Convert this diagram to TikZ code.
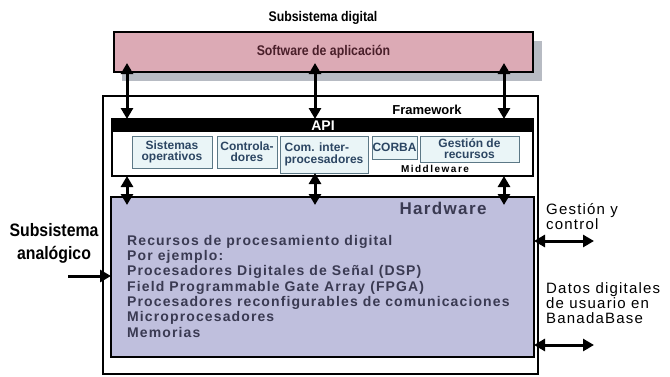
\documentclass[tikz,border=0pt]{standalone}
\usepackage{fontspec}
\setmainfont{Liberation Sans}
\newfontfamily\trackfont[LetterSpace=8]{Liberation Sans}
\newfontfamily\mwfont[LetterSpace=15]{Liberation Sans}
\newfontfamily\condfont[FakeStretch=0.88]{Liberation Sans}
\usetikzlibrary{arrows.meta}

\definecolor{appfill}{HTML}{DCAAB5}
\definecolor{apptext}{HTML}{4A1F2A}
\definecolor{shadowgray}{HTML}{B7BBC3}
\definecolor{hwfill}{HTML}{BFBFDD}
\definecolor{hwtext}{HTML}{3A3A52}
\definecolor{mwfill}{HTML}{EAF5F7}
\definecolor{mwedge}{HTML}{5C7886}
\definecolor{mwtext}{HTML}{2C4663}

\tikzset{
  boxat/.style={anchor=north west, inner sep=0pt, outer sep=0pt},
  heavy/.style={boxat, draw=black, line width=2.8pt},
  mwbox/.style={boxat, draw=mwedge, fill=mwfill, line width=0.9pt},
  mwlabel/.style={text=mwtext, align=center, font=\bfseries\fontsize{12}{11}\selectfont},
  tip/.tip={Triangle[length=11pt,width=12pt]},
  dbl/.style={line width=3pt, tip-tip},
  sgl/.style={line width=3pt, -tip},
  sidetext/.style={anchor=north west, inner sep=0pt, align=left,
    font=\trackfont\fontsize{15}{15}\selectfont}
}

\begin{document}
\begin{tikzpicture}[x=1pt,y=-1pt]
\useasboundingbox (0,0) rectangle (670,376);

% application layer with its drop shadow
\fill[shadowgray] (122,41) rectangle (542,81);
\node[heavy, fill=appfill, minimum width=419pt, minimum height=40pt] (app) at (114,32) {};
\node[text=apptext, font=\condfont\bfseries\fontsize{14}{14}\selectfont] (applbl) at (app.center) {Software de aplicación};
\node[font=\condfont\bfseries\fontsize{14}{14}\selectfont] (digital) at (323,18) {Subsistema digital};

% framework frame
\node[heavy, minimum width=435pt, minimum height=278pt] (fw) at (103,96) {};
\node[font=\bfseries\fontsize{13}{13}\selectfont] (fwlbl) at (427,110) {Framework};

% middleware block with the API bar on top
\node[boxat, draw=black, fill=white, line width=2.2pt, minimum width=421pt, minimum height=57pt] (mw) at (112,119) {};
\node[boxat, fill=black, minimum width=421pt, minimum height=13pt] (api) at (112,119) {};
\node[text=white, font=\bfseries\fontsize{14}{14}\selectfont] (apilbl) at (323,126) {API};
\node[font=\mwfont\bfseries\fontsize{10}{10}\selectfont] (mwlbl) at (435,169) {Middleware};

\node[mwbox, minimum width=80pt, minimum height=32pt] (so) at (132,136) {};
\node[mwlabel] (solbl) at (so.center) {Sistemas\\operativos};
\node[mwbox, minimum width=60pt, minimum height=32pt] (ctl) at (217,136) {};
\node[mwlabel] (ctllbl) at (ctl.center) {Controla-\\dores};
\node[mwbox, minimum width=88pt, minimum height=37pt] (ipc) at (280,136) {};
\node[mwlabel, align=left, font=\bfseries\fontsize{12}{12.5}\selectfont] (ipclbl) at (ipc.center) {Com. inter-\\procesadores};
\node[mwbox, minimum width=45pt, minimum height=23pt] (corba) at (372,136) {};
\node[mwlabel] (corbalbl) at (corba.center) {CORBA};
\node[mwbox, minimum width=99pt, minimum height=26pt] (res) at (420,136) {};
\node[mwlabel, font=\bfseries\fontsize{12}{11}\selectfont] (reslbl) at (res.center) {Gestión de\\recursos};

% hardware block
\node[heavy, fill=hwfill, minimum width=423pt, minimum height=160pt] (hw) at (111,197) {};
\node[text=hwtext, font=\trackfont\bfseries\fontsize{17}{17}\selectfont] (hwlbl) at (443,208) {Hardware};
\node[anchor=north west, inner sep=0pt, align=left, text=hwtext,
      font=\trackfont\bfseries\fontsize{14}{15.3}\selectfont] (hwlist) at (127,235)
  {Recursos de procesamiento digital\\
   Por ejemplo:\\
   Procesadores Digitales de Señal (DSP)\\
   Field Programmable Gate Array (FPGA)\\
   Procesadores reconfigurables de comunicaciones\\
   Microprocesadores\\
   Memorias};

% vertical links between the layers; tips reach into the boxes
\coordinate (xa) at (127,0);
\coordinate (xb) at (315,0);
\coordinate (xc) at (504,0);
\foreach \x in {xa,xb,xc}
  \draw[dbl, shorten <=-9pt] (app.south -| \x) -- (api.north -| \x);
\draw[dbl, shorten >=-8pt] (mw.south -| xa) -- (hw.north -| xa);
\draw[dbl, shorten >=-8pt] (ipc.south -| xb) -- (hw.north -| xb);
\draw[dbl, shorten >=-8pt] (mw.south -| xc) -- (hw.north -| xc);

% analog subsystem input
\node[align=center, font=\condfont\bfseries\fontsize{18}{23}\selectfont] (analog) at (54,243) {Subsistema\\analógico};
\coordinate (ain) at (68,276);
\draw[sgl] (ain) -- (hw.west |- ain);

% external interfaces on the right
\node[sidetext] (mgmt) at (546,203) {Gestión y\\control};
\coordinate (mgmtout) at (594,241);
\draw[dbl] (hw.east |- mgmtout) -- (mgmtout);
\node[sidetext] (data) at (546,282) {Datos digitales\\de usuario en\\BanadaBase};
\coordinate (dataout) at (594,345);
\draw[dbl] (hw.east |- dataout) -- (dataout);
\end{tikzpicture}
\end{document}
